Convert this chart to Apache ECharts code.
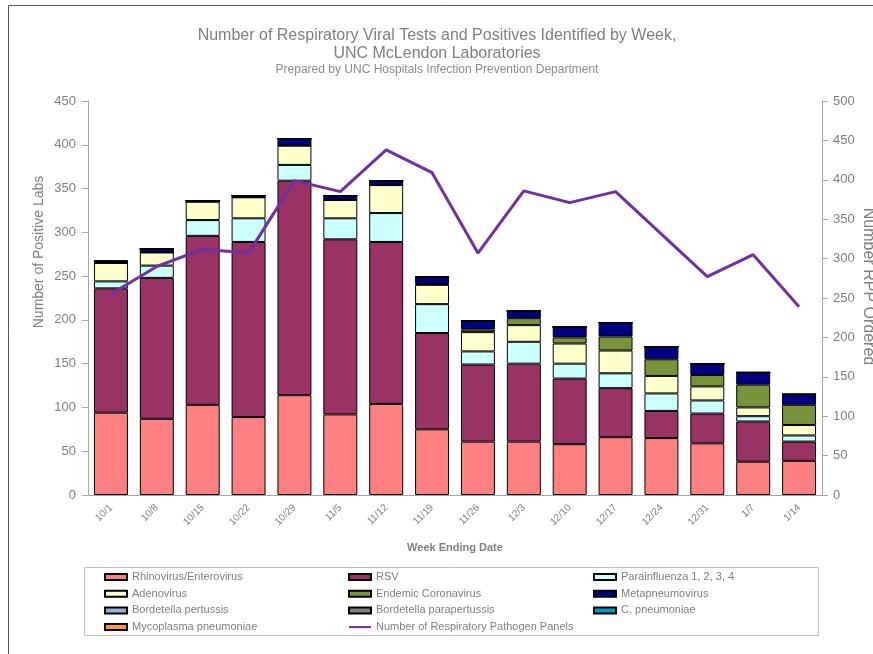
<!DOCTYPE html>
<html>
<head>
<meta charset="utf-8">
<title>Respiratory Viral Tests by Week</title>
<script src="https://cdn.jsdelivr.net/npm/echarts@6/dist/echarts.min.js"></script>
<style>
  html, body { margin: 0; padding: 0; background: #fff; }
  #chart { width: 873px; height: 654px; }
</style>
</head>
<body>
<div id="chart"></div>
<script>
// week ending dates
const weeks = ['10/1', '10/8', '10/15', '10/22', '10/29', '11/5', '11/12', '11/19',
  '11/26', '12/3', '12/10', '12/17', '12/24', '12/31', '1/7', '1/14']

// positives per pathogen (left axis)
const rhino = [94, 87, 103, 89, 114, 92, 104, 75, 61, 61, 58, 66, 65, 59, 38, 39]
const rsv = [142, 161, 193, 200, 245, 200, 185, 110, 88, 89, 75, 56, 31, 34, 46, 22]
const parainfluenza = [8, 14, 18, 27, 18, 24, 33, 33, 15, 25, 17, 17, 20, 15, 6, 7]
const adenovirus = [21, 15, 21, 24, 22, 21, 32, 22, 22, 19, 23, 26, 20, 16, 10, 12]
const coronavirus = [0, 0, 0, 0, 0, 0, 0, 1, 3, 8, 7, 16, 19, 13, 26, 23]
const metapneumo = [2, 4, 1, 2, 8, 5, 5, 8, 10, 8, 12, 16, 14, 13, 14, 12]
const pertussis = [0, 0, 0, 0, 0, 0, 0, 0, 0, 0, 0, 0, 0, 0, 0, 0]
const parapertussis = [0, 0, 0, 0, 0, 0, 0, 0, 0, 0, 0, 0, 0, 0, 0, 0]
const cPneumoniae = [0, 0, 0, 0, 0, 0, 0, 0, 0, 0, 0, 0, 0, 0, 0, 0]
const mycoplasma = [0, 0, 0, 0, 0, 0, 0, 0, 0, 0, 0, 0, 0, 0, 0, 0]

// respiratory pathogen panels ordered (right axis)
const panels = [255, 290, 312, 307, 399, 385, 438, 409, 307, 386, 371, 385, 331, 277, 305, 239]

const FONT = 'Liberation Sans, Arial, sans-serif'
const GRAY = '#7f7f7f'
const LINE_NAME = 'Number of Respiratory Pathogen Panels'

const barDefs = [
  { name: 'Rhinovirus/Enterovirus', data: rhino, color: '#ff8080' },
  { name: 'RSV', data: rsv, color: '#993366' },
  { name: 'Parainfluenza 1, 2, 3, 4', data: parainfluenza, color: '#ccffff' },
  { name: 'Adenovirus', data: adenovirus, color: '#ffffcc' },
  { name: 'Endemic Coronavirus', data: coronavirus, color: '#77933c' },
  { name: 'Metapneumovirus', data: metapneumo, color: '#000080' },
  { name: 'Bordetella pertussis', data: pertussis, color: '#95b3d7' },
  { name: 'Bordetella parapertussis', data: parapertussis, color: '#7f7f7f' },
  { name: 'C. pneumoniae', data: cPneumoniae, color: '#0099cc' },
  { name: 'Mycoplasma pneumoniae', data: mycoplasma, color: '#ff9933' }
]

const series = barDefs.map(d => ({
  name: d.name,
  type: 'bar',
  stack: 'positives',
  data: d.data,
  barCategoryGap: '26%',
  itemStyle: { color: d.color, borderColor: '#000', borderWidth: 1 }
}))
series.push({
  name: LINE_NAME,
  type: 'line',
  yAxisIndex: 1,
  data: panels,
  showSymbol: false,
  lineStyle: { color: '#7030a0', width: 3 },
  // no point markers, also keeps the legend icon a plain line
  itemStyle: { color: '#7030a0', opacity: 0 },
  z: 5
})

// bar entries get a box icon, the line keeps its line icon
const legendItems = names => names.map(n => n === LINE_NAME ? { name: n } : { name: n, icon: 'rect' })

const legendBase = {
  orient: 'vertical',
  top: 566,
  itemWidth: 22,
  itemHeight: 6,
  itemGap: 4.7,
  selectedMode: false,
  textStyle: { color: GRAY, fontFamily: FONT, fontSize: 11, lineHeight: 12 }
}

const chart = echarts.init(document.getElementById('chart'))
chart.setOption({
  animation: false,
  backgroundColor: '#fff',
  textStyle: { fontFamily: FONT },
  title: [
    {
      text: 'Number of Respiratory Viral Tests and Positives Identified by Week,\nUNC McLendon Laboratories',
      left: 432, top: 22, textAlign: 'center',
      textStyle: { color: GRAY, fontSize: 16, fontWeight: 'normal', lineHeight: 18, fontFamily: FONT }
    },
    {
      text: 'Prepared by UNC Hospitals Infection Prevention Department',
      left: 432, top: 59, textAlign: 'center',
      textStyle: { color: '#8c8c8c', fontSize: 12, fontWeight: 'normal', fontFamily: FONT }
    }
  ],
  graphic: [
    { type: 'rect', shape: { x: 8.5, y: 5.5, width: 900, height: 700 }, style: { fill: null, stroke: '#595959', lineWidth: 1 }, silent: true },
    { type: 'rect', shape: { x: 84.5, y: 567.5, width: 734, height: 68 }, style: { fill: null, stroke: '#bfbfbf', lineWidth: 1 }, silent: true }
  ],
  legend: [
    Object.assign({ left: 99, data: legendItems(['Rhinovirus/Enterovirus', 'Adenovirus', 'Bordetella pertussis', 'Mycoplasma pneumoniae']) }, legendBase),
    Object.assign({ left: 343, data: legendItems(['RSV', 'Endemic Coronavirus', 'Bordetella parapertussis', LINE_NAME]) }, legendBase),
    Object.assign({ left: 588, data: legendItems(['Parainfluenza 1, 2, 3, 4', 'Metapneumovirus', 'C. pneumoniae']) }, legendBase)
  ],
  grid: { left: 88, right: 51, top: 101, bottom: 159, outerBoundsMode: 'none' },
  xAxis: {
    type: 'category',
    data: weeks,
    name: 'Week Ending Date',
    nameLocation: 'middle',
    nameGap: 47,
    nameMoveOverlap: false,
    nameTextStyle: { color: GRAY, fontSize: 11, fontWeight: 'bold', fontFamily: FONT },
    axisLine: { lineStyle: { color: '#a6a6a6', width: 1 } },
    axisTick: { show: false },
    axisLabel: { rotate: 45, color: GRAY, fontSize: 10, margin: 11, fontFamily: FONT }
  },
  yAxis: [
    {
      type: 'value',
      min: 0, max: 450, interval: 50,
      name: 'Number of Positive Labs',
      nameLocation: 'middle',
      nameGap: 42,
      nameMoveOverlap: false,
      nameTextStyle: { color: GRAY, fontSize: 14, fontFamily: FONT, padding: [0, 0, 0, 92] },
      axisLine: { show: true, lineStyle: { color: '#a6a6a6' } },
      axisTick: { show: true, length: 6, lineStyle: { color: '#a6a6a6' } },
      axisLabel: { color: GRAY, fontSize: 13, margin: 12, fontFamily: FONT },
      splitLine: { show: false }
    },
    {
      type: 'value',
      position: 'right',
      min: 0, max: 500, interval: 50,
      name: 'Number RPP Ordered',
      nameLocation: 'middle',
      nameGap: 38,
      nameRotate: -90,
      nameMoveOverlap: false,
      nameTextStyle: { color: GRAY, fontSize: 16, fontFamily: FONT, padding: [0, 23, 0, 0] },
      axisLine: { show: true, lineStyle: { color: '#a6a6a6' } },
      axisTick: { show: true, length: 6, lineStyle: { color: '#a6a6a6' } },
      axisLabel: { color: GRAY, fontSize: 13, margin: 11, fontFamily: FONT },
      splitLine: { show: false }
    }
  ],
  series: series
})
</script>
</body>
</html>
